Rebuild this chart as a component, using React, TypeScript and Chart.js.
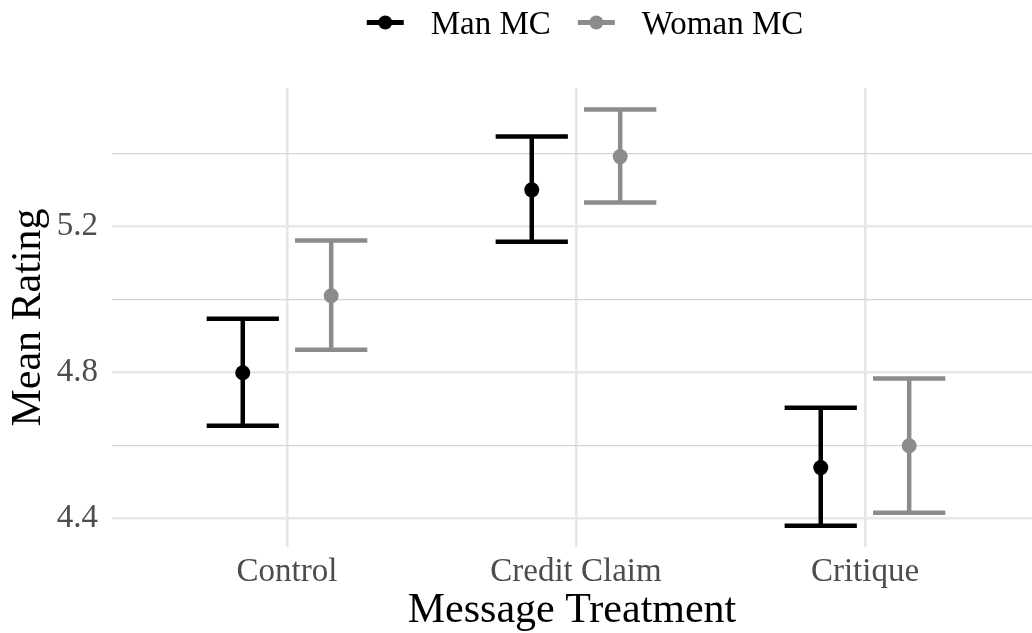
import React, { useEffect, useRef } from 'react';
import { Chart, registerables } from 'chart.js';

Chart.register(...registerables);

const categories = ['Control', 'Credit Claim', 'Critique'];
const seriesNames = ['Man MC', 'Woman MC'];
const manMean = [4.8, 5.301, 4.54];
const manLower = [4.655, 5.159, 4.381];
const manUpper = [4.948, 5.447, 4.704];
const womanMean = [5.011, 5.392, 4.6];
const womanLower = [4.863, 5.266, 4.416];
const womanUpper = [5.162, 5.521, 4.784];
const yTickValues = [4.4, 4.6, 4.8, 5.0, 5.2, 5.4];
const yTickLabels = ['4.4', '', '4.8', '', '5.2', ''];

const SERIF = "'Liberation Serif', 'Times New Roman', serif";
const MAN_COLOR = '#000000';
const WOMAN_COLOR = '#8c8c8c';
const DODGE = 0.153;
const CAP_HALF = 0.125;

const errorBarPlugin = {
  id: 'errorBars',
  beforeDatasetsDraw(chart: any) {
    const { ctx, scales } = chart;
    const xs = scales.x;
    const ys = scales.y;
    chart.data.datasets.forEach((ds: any) => {
      const lows: number[] = ds.lower;
      const highs: number[] = ds.upper;
      ctx.save();
      ctx.strokeStyle = ds.backgroundColor;
      ctx.lineWidth = 4.5;
      ctx.lineCap = 'butt';
      ds.data.forEach((p: any, i: number) => {
        const cx = xs.getPixelForValue(p.x);
        const xl = xs.getPixelForValue(p.x - CAP_HALF);
        const xr = xs.getPixelForValue(p.x + CAP_HALF);
        const yl = ys.getPixelForValue(lows[i]);
        const yh = ys.getPixelForValue(highs[i]);
        ctx.beginPath();
        ctx.moveTo(cx, yl);
        ctx.lineTo(cx, yh);
        ctx.moveTo(xl, yl);
        ctx.lineTo(xr, yl);
        ctx.moveTo(xl, yh);
        ctx.lineTo(xr, yh);
        ctx.stroke();
      });
      ctx.restore();
    });
  },
};

const legendPlugin = {
  id: 'customLegend',
  afterDraw(chart: any) {
    const { ctx } = chart;
    ctx.save();
    ctx.font = `33px ${SERIF}`;
    ctx.textBaseline = 'alphabetic';
    ctx.textAlign = 'left';
    const keyW = 37;
    const keyGap = 27;
    const itemGap = 27;
    const cy = 22.5;
    const baseline = 33.5;
    const widths = chart.data.datasets.map((ds: any) => ctx.measureText(ds.label).width);
    let total = 0;
    widths.forEach((w: number, i: number) => {
      total += keyW + keyGap + w + (i < widths.length - 1 ? itemGap : 0);
    });
    const area = chart.chartArea;
    let x = (area.left + area.right) / 2 + 13 - total / 2;
    chart.data.datasets.forEach((ds: any, i: number) => {
      ctx.strokeStyle = ds.backgroundColor;
      ctx.fillStyle = ds.backgroundColor;
      ctx.lineWidth = 5;
      ctx.beginPath();
      ctx.moveTo(x, cy);
      ctx.lineTo(x + keyW, cy);
      ctx.stroke();
      ctx.beginPath();
      ctx.arc(x + keyW / 2, cy, 7, 0, Math.PI * 2);
      ctx.fill();
      ctx.fillStyle = '#000000';
      ctx.fillText(ds.label, x + keyW + keyGap, baseline);
      x += keyW + keyGap + widths[i] + itemGap;
    });
    ctx.restore();
  },
};

export default function App() {
  const canvasRef = useRef<HTMLCanvasElement | null>(null);

  useEffect(() => {
    if (!canvasRef.current) return;
    const chart = new Chart(canvasRef.current, {
      type: 'scatter',
      data: {
        datasets: [
          {
            label: seriesNames[0],
            data: manMean.map((v, i) => ({ x: i + 1 - DODGE, y: v })),
            lower: manLower,
            upper: manUpper,
            backgroundColor: MAN_COLOR,
            borderColor: MAN_COLOR,
            pointRadius: 7.5,
            pointBorderWidth: 0,
          } as any,
          {
            label: seriesNames[1],
            data: womanMean.map((v, i) => ({ x: i + 1 + DODGE, y: v })),
            lower: womanLower,
            upper: womanUpper,
            backgroundColor: WOMAN_COLOR,
            borderColor: WOMAN_COLOR,
            pointRadius: 7.5,
            pointBorderWidth: 0,
          } as any,
        ],
      },
      options: {
        animation: false,
        responsive: true,
        maintainAspectRatio: false,
        layout: { autoPadding: false, padding: { top: 88, left: 0, right: 0, bottom: 0 } },
        plugins: {
          legend: { display: false },
          tooltip: { enabled: false },
        },
        scales: {
          x: {
            type: 'linear',
            min: 0.3945,
            max: 3.578,
            afterBuildTicks: (s: any) => {
              s.ticks = categories.map((_, i) => ({ value: i + 1 }));
            },
            afterFit: (s: any) => {
              s.height = 86;
              s.paddingLeft = 0;
              s.paddingRight = 0;
            },
            border: { display: false },
            grid: {
              color: '#e6e6e6',
              lineWidth: 2.5,
              drawTicks: false,
            },
            ticks: {
              padding: 6,
              color: '#4d4d4d',
              font: { family: SERIF, size: 33 },
              callback: (v: any) => categories[Math.round(Number(v)) - 1] ?? '',
              maxRotation: 0,
              autoSkip: false,
            },
            title: {
              display: true,
              text: 'Message Treatment',
              color: '#000000',
              font: { family: SERIF, size: 42, lineHeight: 1 },
              padding: { top: 0, bottom: 1 },
            },
          },
          y: {
            type: 'linear',
            min: 4.3225,
            max: 5.58,
            afterBuildTicks: (s: any) => {
              s.ticks = yTickValues.map((v) => ({ value: v }));
            },
            afterFit: (s: any) => {
              s.width = 112;
              s.paddingTop = 0;
              s.paddingBottom = 0;
            },
            border: { display: false },
            grid: {
              color: (c: any) => {
                const i = yTickValues.findIndex((v) => Math.abs(v - c.tick?.value) < 1e-6);
                return i >= 0 && yTickLabels[i] !== '' ? '#e8e8e8' : '#d6d6d6';
              },
              lineWidth: (c: any) => {
                const i = yTickValues.findIndex((v) => Math.abs(v - c.tick?.value) < 1e-6);
                return i >= 0 && yTickLabels[i] !== '' ? 2.5 : 1.3;
              },
              drawTicks: false,
            },
            ticks: {
              padding: 14,
              color: '#4d4d4d',
              font: { family: SERIF, size: 33 },
              callback: (v: any) => {
                const i = yTickValues.findIndex((t) => Math.abs(t - Number(v)) < 1e-6);
                return i >= 0 ? yTickLabels[i] : '';
              },
              autoSkip: false,
            },
            title: {
              display: true,
              text: 'Mean Rating',
              color: '#000000',
              font: { family: SERIF, size: 42 },
              padding: { top: 4, bottom: 0 },
            },
          },
        },
      },
      plugins: [errorBarPlugin, legendPlugin],
    } as any);
    return () => chart.destroy();
  }, []);

  return (
    <div style={{ position: 'fixed', left: 0, top: 0, width: 1032, height: 633, background: '#ffffff' }}>
      <canvas ref={canvasRef} />
    </div>
  );
}
